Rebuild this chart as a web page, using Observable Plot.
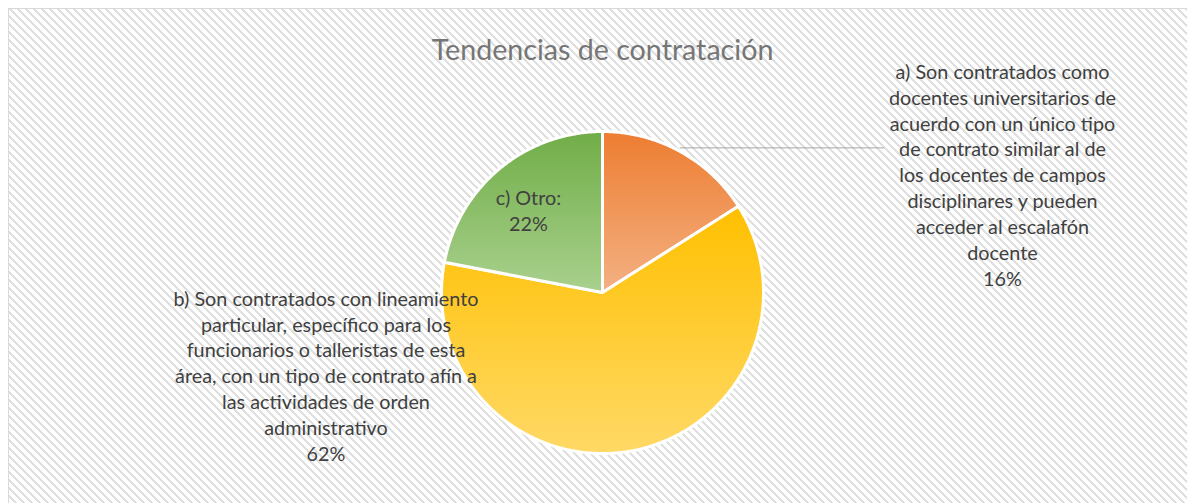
<!DOCTYPE html>
<html>
<head>
<meta charset="utf-8">
<script src="https://cdn.jsdelivr.net/npm/d3@7"></script>
<script src="https://cdn.jsdelivr.net/npm/@observablehq/plot@0.6"></script>
<style>
  html, body { margin: 0; padding: 0; background: #ffffff; overflow: hidden; }
  #chart { width: 1187px; height: 503px; }
</style>
</head>
<body>
<div id="chart"></div>
<script>
// ---- data ----
const title = "Tendencias de contratación";
const categories = [
  "a) Son contratados como\ndocentes universitarios de\nacuerdo con un único tipo\nde contrato similar al de\nlos docentes de campos\ndisciplinares y pueden\nacceder al escalafón\ndocente",
  "b) Son contratados con lineamiento\nparticular, específico para los\nfuncionarios o talleristas de esta\nárea, con un tipo de contrato afín a\nlas actividades de orden\nadministrativo",
  "c) Otro:"
];
const shares = [16, 62, 22];

// ---- style / layout ----
const W = 1187, H = 503;
const CX = 602, CY = 292, R = 161;
const gradTop = ["#ED7D31", "#FFC000", "#70AD47"];
const gradBottom = ["#F4B183", "#FFD966", "#A9D18E"];
const labelPos = [{px: 1002, py: 173.5}, {px: 325.5, py: 374.5}, {px: 528, py: 209.5}];
const leaderEndPx = 883;
const textColor = "#404040";
const titleColor = "#767676";
const FONT = "Lato";

const toX = px => (px - CX) / R;
const toY = py => (CY - py) / R;

// font sizes fitted to measured widths of the reference
const ctx = document.createElement("canvas").getContext("2d");
function fit(str, target, weight = "") {
  ctx.font = `${weight} 100px ${FONT}`;
  return 100 * target / ctx.measureText(str).width;
}
const labelSize = (fit("a) Son contratados como", 214) + fit("b) Son contratados con lineamiento", 305)) / 2;
const titleSize = fit(title, 342);

// ---- pie geometry from data ----
const arcs = d3.pie().sort(null).value(d => d)(shares);
const slicePolys = arcs.map(a => {
  const pts = [[0, 0]];
  const n = Math.max(8, Math.ceil((a.endAngle - a.startAngle) / (Math.PI / 360)));
  for (let i = 0; i <= n; i++) {
    const t = a.startAngle + (a.endAngle - a.startAngle) * i / n;
    pts.push([Math.sin(t), Math.cos(t)]);
  }
  return pts;
});

const labelData = categories.map((c, i) => ({
  text: c + "\n" + shares[i] + "%",
  x: toX(labelPos[i].px),
  y: toY(labelPos[i].py)
}));

const midA = (arcs[0].startAngle + arcs[0].endAngle) / 2;
const leaderY = Math.cos(midA) * 1.025;
const leader = [[Math.sin(midA) * 1.0, leaderY], [toX(leaderEndPx), leaderY]];

const plot = Plot.plot({
  width: W,
  height: H,
  margin: 0,
  style: {background: "transparent", overflow: "visible", fontFamily: FONT},
  x: {type: "linear", domain: [-1, 1], range: [CX - R, CX + R], axis: null},
  y: {type: "linear", domain: [-1, 1], range: [CY + R, CY - R], axis: null},
  marks: [
    ...slicePolys.map((pts, i) => Plot.line(pts, {
      x: d => d[0], y: d => d[1],
      curve: "linear-closed",
      fill: `url(#slicegrad${i})`,
      stroke: "#ffffff",
      strokeWidth: 3,
      strokeLinejoin: "miter"
    })),
    Plot.line(leader, {x: d => d[0], y: d => d[1], stroke: "#a6a6a6", strokeWidth: 1}),
    Plot.text(labelData, {
      x: "x", y: "y", text: "text",
      fontSize: labelSize,
      lineHeight: 25.9 / labelSize,
      textAnchor: "middle",
      lineAnchor: "middle",
      fill: textColor,
      fontFamily: FONT
    }),
    Plot.text([title], {
      x: toX(602), y: toY(50), text: d => d,
      fontSize: titleSize,
      textAnchor: "middle",
      lineAnchor: "middle",
      fill: titleColor,
      fontFamily: FONT
    })
  ]
});

// defs: hatch pattern + gradients
const svgNS = "http://www.w3.org/2000/svg";
const svg = d3.select(plot);
const defs = svg.insert("defs", ":first-child");
const pat = defs.append("pattern").attr("id", "hatch")
  .attr("width", 8).attr("height", 8).attr("patternUnits", "userSpaceOnUse");
pat.append("rect").attr("width", 8).attr("height", 8).attr("fill", "#ffffff");
for (let r = 0; r < 8; r++) {
  for (let k = 0; k < 3; k++) {
    pat.append("rect").attr("x", (r + k) % 8).attr("y", r)
      .attr("width", 1).attr("height", 1).attr("fill", "#e0e0e0")
      .attr("shape-rendering", "crispEdges");
  }
}
gradTop.forEach((c, i) => {
  const g = defs.append("linearGradient").attr("id", `slicegrad${i}`)
    .attr("x1", 0).attr("y1", 0).attr("x2", 0).attr("y2", 1);
  g.append("stop").attr("offset", "0%").attr("stop-color", c);
  g.append("stop").attr("offset", "100%").attr("stop-color", gradBottom[i]);
});
const bg = document.createElementNS(svgNS, "rect");
bg.setAttribute("x", 8.5);
bg.setAttribute("y", 8.5);
bg.setAttribute("width", W);
bg.setAttribute("height", H);
bg.setAttribute("fill", "url(#hatch)");
bg.setAttribute("stroke", "#d9d9d9");
bg.setAttribute("stroke-width", 1);
plot.insertBefore(bg, defs.node().nextSibling);

document.getElementById("chart").appendChild(plot);
</script>
</body>
</html>
